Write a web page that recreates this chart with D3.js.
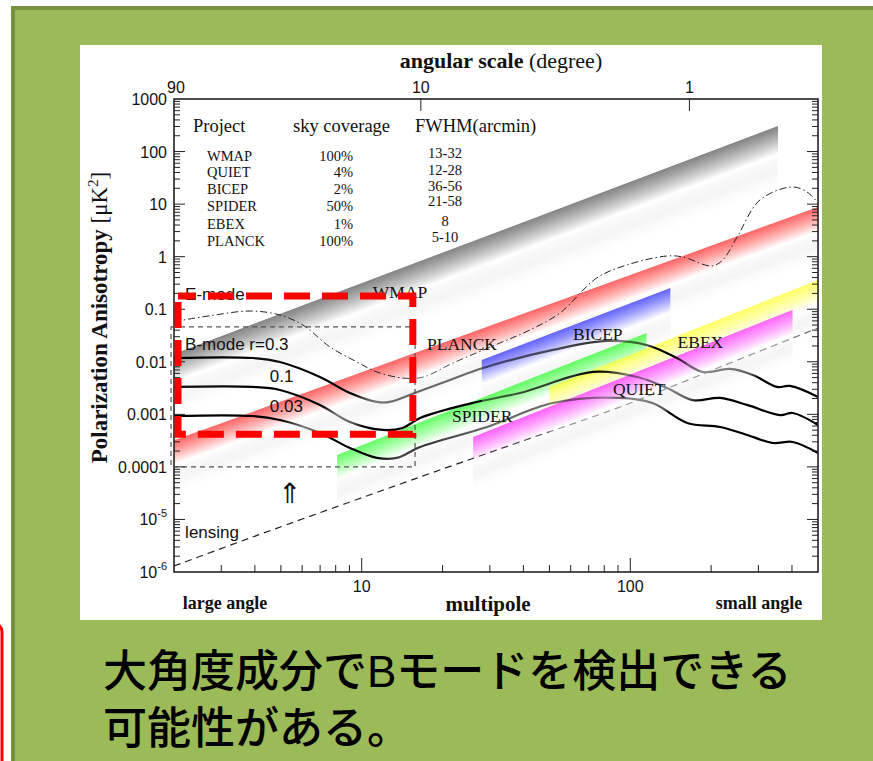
<!DOCTYPE html>
<html>
<head>
<meta charset="utf-8">
<script src="https://cdn.jsdelivr.net/npm/d3@7"></script>
<style>
  body { margin: 0; background: #fff; }
  svg { display: block; }
</style>
</head>
<body>
<svg id="chart" width="873" height="761"></svg>
<script>
// ---- axis ticks ----
const multipoleTickLabels = [10, 100];
const degreeTickLabels = [10, 1];
const degreeStartLabel = "90";
const powerTickValues = [1000, 100, 10, 1, 0.1, 0.01, 0.001, 0.0001, 1e-5, 1e-6];
const powerTickText = ["1000", "100", "10", "1", "0.1", "0.01", "0.001", "0.0001", "10^-5", "10^-6"];

// ---- experiment table ----
const projects = ["WMAP", "QUIET", "BICEP", "SPIDER", "EBEX", "PLANCK"];
const skyCoverage = ["100%", "4%", "2%", "50%", "1%", "100%"];
const fwhmArcmin = ["13-32", "12-28", "36-56", "21-58", "8", "5-10"];

// ---- sensitivity bands: multipole range and top-edge power at each end ----
const bandNames = ["WMAP", "PLANCK", "BICEP", "SPIDER", "EBEX", "QUIET"];
const bandMultipoles = [[2, 355], [2, 500], [28, 141], [8.1, 115], [50, 500], [26, 402]];
const bandPower = [[0.0141, 306], [3.2e-4, 8.8], [0.0108, 0.254], [1.69e-4, 0.0353], [0.0033, 0.36], [3.7e-4, 0.097]];
const bandLabelAt = [[11.0, 0.164], [17.5, 0.0168], [61.2, 0.026], [21.7, 7.16e-4], [150, 0.0183], [86.2, 0.00233]];

// ---- spectra [multipole, power (uK^2)] ----
const eMode = [[2, 0.057], [2.16, 0.062], [2.72, 0.075], [3.84, 0.0925], [4.96, 0.0776], [6.04, 0.050],
  [7.62, 0.0191], [9.6, 0.0099], [11.4, 0.0064], [14.2, 0.0049], [16.9, 0.0051], [21.9, 0.0095],
  [32.7, 0.0228], [42.3, 0.0403], [54.7, 0.0847], [75, 0.393], [97, 0.695], [137, 1.03], [157, 0.986],
  [201, 0.665], [221, 0.865], [250, 2.37], [304, 12.0], [400, 21.2], [455, 17.0], [500, 10.5]];
const bModeR03 = [[2, 0.0118], [3.93, 0.0118], [4.96, 0.0099], [6.99, 0.00514], [9.04, 0.00255],
  [11.4, 0.00172], [12.7, 0.00172], [16.1, 0.00266], [21.3, 0.00451], [28.3, 0.00762], [51.5, 0.0168],
  [81.9, 0.0249], [115, 0.0209], [149, 0.0118], [186, 0.0064], [235, 0.0073], [286, 0.0056],
  [352, 0.00332], [393, 0.00347], [500, 0.00214]];
const bModeR01 = [[2, 0.00332], [3.93, 0.00332], [4.96, 0.00291], [6.99, 0.00151], [9.04, 7.16e-4],
  [12.0, 5.04e-4], [14.2, 5.5e-4], [16.5, 8.53e-4], [25.3, 0.0016], [38.8, 0.00255], [72.6, 0.0064],
  [106, 0.00514], [137, 0.00318], [171, 0.00187], [216, 0.00205], [272, 0.00151], [361, 9.7e-4],
  [403, 0.00106], [500, 6.28e-4]];
const bModeR003 = [[2, 9.3e-4], [3.93, 9.3e-4], [4.96, 7.8e-4], [6.99, 4.42e-4], [9.04, 2.29e-4],
  [11.4, 1.48e-4], [13.5, 1.48e-4], [16.5, 2.39e-4], [29.3, 5.75e-4], [51.5, 0.00164], [91.6, 0.00205],
  [121, 0.00164], [163, 6.86e-4], [216, 5.75e-4], [272, 4.05e-4], [340, 2.85e-4], [403, 2.98e-4],
  [500, 1.84e-4]];
const lensing = [[2, 1.3e-6], [3.84, 4.45e-6], [16.5, 6.43e-5], [38.8, 2.98e-4], [91.6, 0.00138],
  [216, 0.00796], [500, 0.044]];

// ---- in-plot annotations [text, multipole, power] ----
const curveLabels = [["E-mode", 2.2, 0.15], ["B-mode r=0.3", 2.2, 0.0168], ["0.1", 4.55, 0.00413],
  ["0.03", 4.55, 0.00111], ["lensing", 2.2, 4.45e-6]];
const arrowMark = ["\u21D1", 5.41, 2.06e-5];
const focusBoxL = [2.07, 15.5], focusBoxV = [4.2e-4, 0.179];
const largeScaleBoxL = [1.95, 15.8], largeScaleBoxV = [1e-4, 0.046];

const captionLines = ["大角度成分でBモードを検出できる", "可能性がある。"];

// ---- styles ----
const bandColors = ["#4a4a4a", "#ff1e1e", "#1e1eff", "#1eff1e", "#ffff1e", "#ff1eff"];
const bandVeil = [0.05, 0.5, 0.5, 0.5, 0.5, 0.5];
const SERIF = "'Liberation Serif','Times New Roman',serif";
const SANS = "'Liberation Sans',Arial,sans-serif";

const svg = d3.select("#chart");

// slide background
svg.append("rect").attr("x", 13).attr("y", 8).attr("width", 880).attr("height", 780)
  .attr("fill", "#9bbb59").attr("stroke", "#76923c").attr("stroke-width", 4);
svg.append("rect").attr("x", -30).attr("y", 623).attr("width", 32).attr("height", 200).attr("rx", 9)
  .attr("fill", "none").attr("stroke", "#ff0000").attr("stroke-width", 3);
svg.append("rect").attr("x", 80).attr("y", 45).attr("width", 742).attr("height", 575).attr("fill", "#fff");

// scales
const x = d3.scaleLog().domain([2, 500]).range([174, 818]);
const y = d3.scaleLog().domain([1e-6, 1000]).range([572, 99]);
// angular scale: theta(deg) ~ 166 / l
const deg = d3.scaleLog().domain([166 / 2, 166 / 500]).range(x.range());

const [X0, X1] = x.range();
const [Y1, Y0] = y.range();

const defs = svg.append("defs");
defs.append("clipPath").attr("id", "plotClip").append("rect")
  .attr("x", X0).attr("y", Y0).attr("width", X1 - X0).attr("height", Y1 - Y0);
// mask that lets the spectra fade where they run under a band's pale tail
const curveMask = defs.append("mask").attr("id", "curveMask").attr("maskUnits", "userSpaceOnUse")
  .attr("x", 0).attr("y", 0).attr("width", 873).attr("height", 761);
curveMask.append("rect").attr("width", 873).attr("height", 761).attr("fill", "#fff");

const plot = svg.append("g").attr("clip-path", "url(#plotClip)");
const bandLayer = plot.append("g");
const curveLayer = plot.append("g").attr("mask", "url(#curveMask)");

// sensitivity bands: colour at the top edge fading to white below
bandNames.forEach((name, i) => {
  const [l0, l1] = bandMultipoles[i], [v0, v1] = bandPower[i];
  const x0 = x(l0), x1 = x(l1), y0 = y(v0), y1 = y(v1);
  const s = (y1 - y0) / (x1 - x0), b = y0 - s * x0;
  const h = i === 0 ? 62 : 54;
  const grad = id => defs.append("linearGradient").attr("id", id)
    .attr("gradientUnits", "userSpaceOnUse")
    .attr("x1", 0).attr("x2", 0).attr("y1", b).attr("y2", b + h)
    .attr("gradientTransform", `matrix(1,${s},0,1,0,0)`);
  const g = grad("band" + i);
  g.append("stop").attr("offset", 0).attr("stop-color", bandColors[i]).attr("stop-opacity", 0.68);
  g.append("stop").attr("offset", 0.45).attr("stop-color", "#ffffff").attr("stop-opacity", 0.8);
  g.append("stop").attr("offset", 0.72).attr("stop-color", "#e8e8e8").attr("stop-opacity", 0.45);
  g.append("stop").attr("offset", 1).attr("stop-color", "#f4f4f4").attr("stop-opacity", 0);
  const gm = grad("bandMask" + i);
  gm.append("stop").attr("offset", 0.35).attr("stop-color", "#000").attr("stop-opacity", 0);
  gm.append("stop").attr("offset", 0.62).attr("stop-color", "#000").attr("stop-opacity", bandVeil[i]);
  gm.append("stop").attr("offset", 0.88).attr("stop-color", "#000").attr("stop-opacity", bandVeil[i] * 0.7);
  gm.append("stop").attr("offset", 1).attr("stop-color", "#000").attr("stop-opacity", 0);
  const d = `M${x0},${y0}L${x1},${y1}L${x1},${y1 + h}L${x0},${y0 + h}Z`;
  bandLayer.append("path").attr("d", d).attr("fill", `url(#band${i})`);
  curveMask.append("path").attr("d", d).attr("fill", `url(#bandMask${i})`);
});

// spectra
const line = d3.line().x(d => x(d[0])).y(d => y(d[1])).curve(d3.curveCatmullRom.alpha(0.5));
curveLayer.append("path").datum(lensing).attr("d", line).attr("fill", "none")
  .attr("stroke", "#222").attr("stroke-width", 1.2).attr("stroke-dasharray", "7,5");
curveLayer.append("path").datum(eMode).attr("d", line).attr("fill", "none")
  .attr("stroke", "#222").attr("stroke-width", 1).attr("stroke-dasharray", "7,3,1.5,3");
[bModeR03, bModeR01, bModeR003].forEach(s => {
  curveLayer.append("path").datum(s).attr("d", line).attr("fill", "none")
    .attr("stroke", "#000").attr("stroke-width", 2.2);
});

// frame and ticks
const axisG = svg.append("g").attr("stroke", "#222");
axisG.append("rect").attr("x", X0).attr("y", Y0).attr("width", X1 - X0).attr("height", Y1 - Y0)
  .attr("fill", "none").attr("stroke-width", 1.6);
const isDecade = v => Math.abs(Math.log10(v) - Math.round(Math.log10(v))) < 1e-9;
y.ticks(30).forEach(v => {
  if (v <= 1e-6 * 1.0001 || v >= 999.9) return;
  const len = isDecade(v) ? 11 : 6, yy = y(v);
  axisG.append("line").attr("x1", X0).attr("x2", X0 + len).attr("y1", yy).attr("y2", yy).attr("stroke-width", 1);
  axisG.append("line").attr("x1", X1).attr("x2", X1 - len).attr("y1", yy).attr("y2", yy).attr("stroke-width", 1);
});
x.ticks(30).forEach(l => {
  if (l <= 2.0001 || l >= 499.9) return;
  const len = isDecade(l) ? 14 : 7, xx = x(l);
  axisG.append("line").attr("x1", xx).attr("x2", xx).attr("y1", Y1).attr("y2", Y1 - len).attr("stroke-width", 1);
});
degreeTickLabels.forEach(d => {
  axisG.append("line").attr("x1", deg(d)).attr("x2", deg(d)).attr("y1", Y0).attr("y2", Y0 + 12).attr("stroke-width", 1);
});

// tick labels
const lab = svg.append("g").attr("fill", "#111");
powerTickValues.forEach((v, i) => {
  const t = lab.append("text").attr("x", X0 - 7).attr("y", y(v) + 6)
    .attr("text-anchor", "end").attr("font-family", SANS).attr("font-size", 16);
  const parts = powerTickText[i].split("^");
  if (parts.length === 1) t.text(parts[0]);
  else {
    t.append("tspan").text(parts[0]);
    t.append("tspan").attr("dy", -8).attr("font-size", 11).text(parts[1]);
  }
});
multipoleTickLabels.forEach(l => {
  lab.append("text").attr("x", x(l)).attr("y", Y1 + 20).attr("text-anchor", "middle")
    .attr("font-family", SANS).attr("font-size", 16).text(l);
});
lab.append("text").attr("x", X0 + 2).attr("y", Y0 - 6).attr("text-anchor", "middle")
  .attr("font-family", SANS).attr("font-size", 16).text(degreeStartLabel);
degreeTickLabels.forEach(d => {
  lab.append("text").attr("x", deg(d)).attr("y", Y0 - 6).attr("text-anchor", "middle")
    .attr("font-family", SANS).attr("font-size", 16).text(d);
});

// axis titles
const titleText = lab.append("text").attr("x", 501).attr("y", 68).attr("text-anchor", "middle")
  .attr("font-family", SERIF).attr("font-size", 22);
titleText.append("tspan").attr("font-weight", "bold").text("angular scale ");
titleText.append("tspan").text("(degree)");

const yTitle = lab.append("text").attr("transform", `translate(107,${(Y0 + Y1) / 2 - 18}) rotate(-90)`)
  .attr("text-anchor", "middle").attr("font-family", SERIF).attr("font-size", 23);
yTitle.append("tspan").attr("font-weight", "bold").text("Polarization Anisotropy ");
yTitle.append("tspan").text("[\u03BCK");
yTitle.append("tspan").attr("dy", -9).attr("font-size", 15).text("2");
yTitle.append("tspan").attr("dy", 9).text("]");

lab.append("text").attr("x", 225).attr("y", 609).attr("text-anchor", "middle")
  .attr("font-family", SERIF).attr("font-weight", "bold").attr("font-size", 18).text("large angle");
lab.append("text").attr("x", 488).attr("y", 611).attr("text-anchor", "middle")
  .attr("font-family", SERIF).attr("font-weight", "bold").attr("font-size", 21).text("multipole");
lab.append("text").attr("x", 759).attr("y", 609).attr("text-anchor", "middle")
  .attr("font-family", SERIF).attr("font-weight", "bold").attr("font-size", 18).text("small angle");

// experiment table
const tbl = svg.append("g").attr("font-family", SERIF).attr("fill", "#111");
tbl.append("text").attr("x", X0 + 19).attr("y", Y0 + 33).attr("font-size", 18.5).text("Project");
tbl.append("text").attr("x", X0 + 119).attr("y", Y0 + 33).attr("font-size", 18.5).text("sky coverage");
tbl.append("text").attr("x", X0 + 241).attr("y", Y0 + 33).attr("font-size", 18.5).text("FWHM(arcmin)");
const rowBase = [161, 177, 194, 211, 229, 246];
const fwhmBase = [158, 175, 191, 206, 226, 242];
projects.forEach((p, i) => {
  tbl.append("text").attr("x", X0 + 33).attr("y", rowBase[i]).attr("font-size", 14.5).text(p);
  tbl.append("text").attr("x", X0 + 179).attr("y", rowBase[i]).attr("text-anchor", "end")
    .attr("font-size", 14.5).text(skyCoverage[i]);
  tbl.append("text").attr("x", X0 + 271).attr("y", fwhmBase[i]).attr("text-anchor", "middle")
    .attr("font-size", 14.5).text(fwhmArcmin[i]);
});

// band labels
const ann = svg.append("g").attr("fill", "#111");
bandNames.forEach((n, i) => {
  ann.append("text").attr("x", x(bandLabelAt[i][0])).attr("y", y(bandLabelAt[i][1]))
    .attr("font-family", SERIF).attr("font-size", 17.5).text(n);
});
curveLabels.forEach(([t, l, v]) => {
  ann.append("text").attr("x", x(l)).attr("y", y(v))
    .attr("font-family", SANS).attr("font-size", 17).text(t);
});
ann.append("text").attr("x", x(arrowMark[1])).attr("y", y(arrowMark[2])).attr("text-anchor", "middle")
  .attr("font-family", "'DejaVu Sans',sans-serif").attr("font-size", 28).text(arrowMark[0]);

// large-scale region (thin dashed) and highlighted region (red dashed)
svg.append("rect")
  .attr("x", x(largeScaleBoxL[0])).attr("y", y(largeScaleBoxV[1]))
  .attr("width", x(largeScaleBoxL[1]) - x(largeScaleBoxL[0]))
  .attr("height", y(largeScaleBoxV[0]) - y(largeScaleBoxV[1]))
  .attr("fill", "none").attr("stroke", "#555").attr("stroke-width", 1.2).attr("stroke-dasharray", "5,4");
svg.append("rect")
  .attr("x", x(focusBoxL[0])).attr("y", y(focusBoxV[1]))
  .attr("width", x(focusBoxL[1]) - x(focusBoxL[0]))
  .attr("height", y(focusBoxV[0]) - y(focusBoxV[1]))
  .attr("fill", "none").attr("stroke", "#ff0000").attr("stroke-width", 7)
  .attr("stroke-dasharray", "26,12").attr("stroke-dashoffset", 8);

// caption
const cap = svg.append("g").attr("font-family", "'Liberation Sans','Noto Sans CJK JP',sans-serif")
  .attr("font-size", 44).attr("font-weight", 500).attr("fill", "#000");
captionLines.forEach((t, i) => {
  cap.append("text").attr("x", 103).attr("y", 687 + i * 57).text(t);
});
</script>
</body>
</html>
